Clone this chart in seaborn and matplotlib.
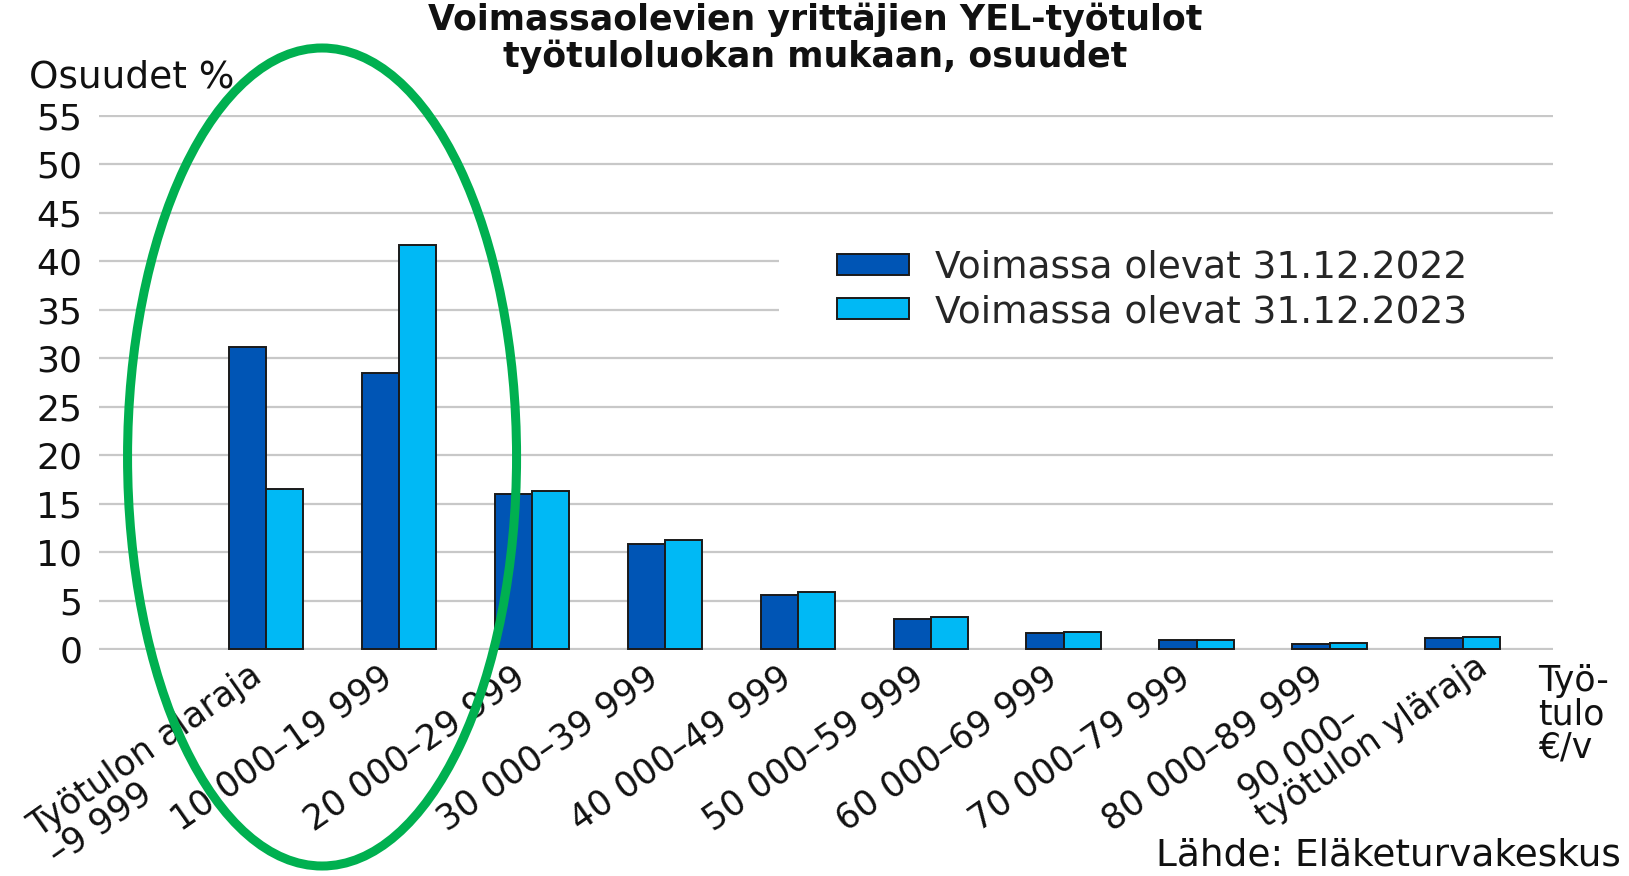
import matplotlib
matplotlib.use("Agg")
import matplotlib.pyplot as plt
from matplotlib.patches import Ellipse, Rectangle
from matplotlib.transforms import ScaledTranslation
import seaborn as sns
import pandas as pd

# ---- data ----
categories = ["Työtulon alaraja\n–9 999", "10 000–19 999", "20 000–29 999",
              "30 000–39 999", "40 000–49 999", "50 000–59 999",
              "60 000–69 999", "70 000–79 999", "80 000–89 999",
              "90 000–\ntyötulon yläraja"]
series_names = ["Voimassa olevat 31.12.2022", "Voimassa olevat 31.12.2023"]
values_2022 = [31.2, 28.5, 16.0, 10.9, 5.6, 3.1, 1.7, 0.9, 0.5, 1.2]
values_2023 = [16.5, 41.7, 16.3, 11.3, 5.9, 3.3, 1.8, 1.0, 0.6, 1.3]
yticks = list(range(0, 56, 5))
colors = ["#0055B5", "#00B9F5"]

df = pd.DataFrame({
    "luokka": categories * 2,
    "osuus": values_2022 + values_2023,
    "sarja": [series_names[0]] * len(categories) + [series_names[1]] * len(categories),
})

sns.set_theme(style="white")
plt.rcParams["font.family"] = ["DejaVu Sans"]

fig = plt.figure(figsize=(16.29, 8.76), dpi=100)
ax = fig.add_axes([0.0608, 0.258, 0.8925, 0.6105])

sns.barplot(data=df, x="luokka", y="osuus", hue="sarja", order=categories,
            hue_order=series_names, palette=colors, saturation=1, width=0.56, gap=0,
            edgecolor="#1a1a1a", linewidth=1.4, ax=ax)

ax.set_xlim(-1.256, 9.68)
ax.set_ylim(-0.08, 55.08)
ax.set_yticks(yticks)
ax.set_yticklabels([str(v) for v in yticks])
ax.grid(axis="y", color="#c8c8c8", linewidth=1.6)
ax.set_axisbelow(True)
for s in ax.spines.values():
    s.set_visible(False)
ax.set_xlabel("")
ax.set_ylabel("")
ax.tick_params(axis="y", length=0, labelsize=26, pad=12, labelcolor="#111111")
ax.tick_params(axis="x", length=0, labelsize=25, pad=17, labelcolor="#111111")
ax.set_xticks(range(len(categories)))
ax.set_xticklabels(categories, rotation=35, ha="right", va="center",
                   rotation_mode="anchor", multialignment="left", linespacing=0.95)
# per-label offsets (px): two-line labels keep one line at the single-line position
extra = {0: (12, -12), len(categories) - 1: (22, 23)}
for i, lab in enumerate(ax.get_xticklabels()):
    dx, dy = extra.get(i, (0, 0))
    lab.set_transform(lab.get_transform() +
                      ScaledTranslation((-10 + dx) / 100, dy / 100, fig.dpi_scale_trans))

# legend background covering gridlines
ax.add_patch(Rectangle((0.4677, 0.58), 0.54, 0.20, transform=ax.transAxes,
                       facecolor="white", edgecolor="none", zorder=0.8, clip_on=False))
handles, labels = ax.get_legend_handles_labels()
ax.legend(handles, labels, loc="upper left", bbox_to_anchor=(0.5076, 0.748),
          frameon=False, fontsize=27, handlelength=1.92, handleheight=0.47,
          handletextpad=0.7, labelspacing=0.215, borderpad=0, borderaxespad=0)

fig.text(0.5003, 0.997, "Voimassaolevien yrittäjien YEL-työtulot\ntyötuloluokan mukaan, osuudet",
         ha="center", va="top", fontsize=25, fontweight="bold", color="#111111", linespacing=1.1)
fig.text(29 / 1629, 1 - 77 / 876, "Osuudet %", ha="left", va="center", fontsize=27, color="#111111")
fig.text(1538 / 1629, 1 - 664 / 876, "Työ-\ntulo\n€/v", ha="left", va="top",
         fontsize=25, color="#111111", linespacing=0.97)
fig.text(1621 / 1629, 1 - 855 / 876, "Lähde: Eläketurvakeskus", ha="right", va="center",
         fontsize=27, color="#111111")

fig.add_artist(Ellipse((0.1977, 0.4783), 0.2388, 0.9338, transform=fig.transFigure,
                       fill=False, edgecolor="#00B050", linewidth=6.5, zorder=10))

fig.savefig("out.png", dpi=100)
